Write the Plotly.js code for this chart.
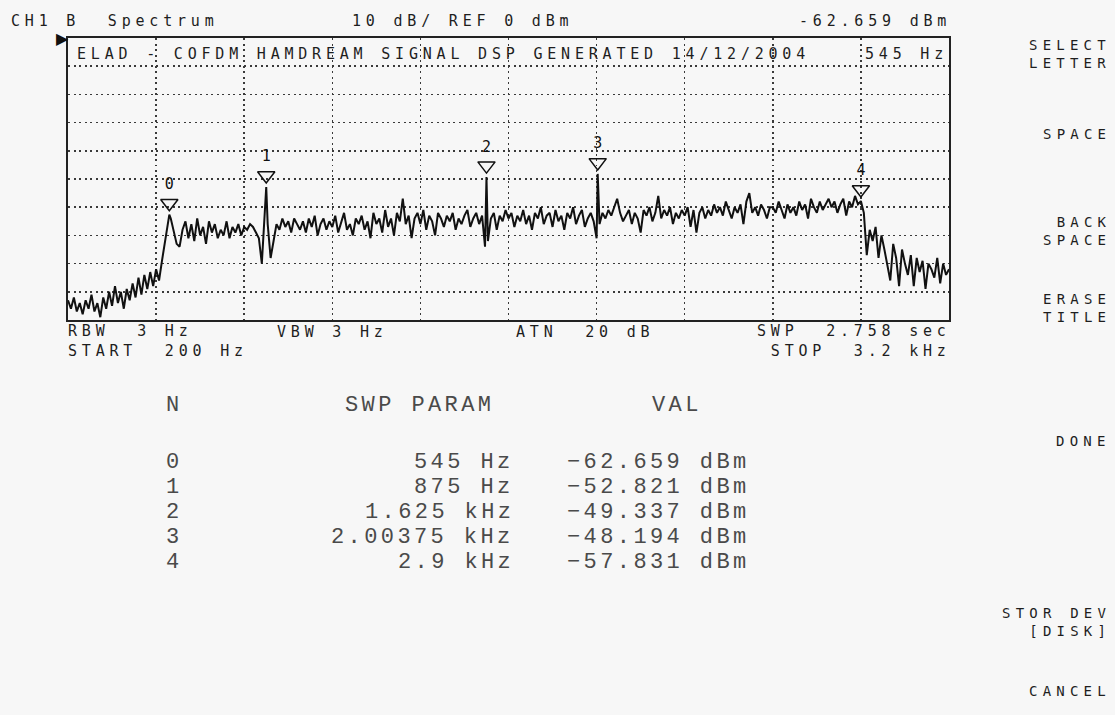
<!DOCTYPE html>
<html>
<head>
<meta charset="utf-8">
<script src="https://cdn.plot.ly/plotly-3.0.1.min.js"></script>
<style>
  html, body { margin: 0; padding: 0; background: #f7f7f7; }
  #chart { width: 1115px; height: 715px; }
  .annotation-text[style*="DejaVu Sans Mono"][style*="font-size: 15px"] { letter-spacing: 4.8px; }
  .annotation-text[style*="DejaVu Sans Mono"][style*="font-size: 14px"] { letter-spacing: 5.2px; }
  .annotation-text[style*="Liberation Mono"] { letter-spacing: 3.4px; }
</style>
</head>
<body>
<div id="chart"></div>
<script>
// ---- Sweep settings (from the screen: START 200 Hz, STOP 3.2 kHz) ----
const startHz = 200;
const stopHz = 3200;
const stepHz = 10;

// ---- Trace level (dBm), one value per 10 Hz from 200 Hz to 3200 Hz ----
const levelDbm = [
  -93,-96,-92,-97,-94,-98,-93,-96,-91,-97,   // 200
  -94,-99,-92,-96,-90,-95,-88,-94,-90,-96,   // 300
  -89,-93,-87,-92,-85,-91,-84,-89,-83,-88,   // 400
  -82,-86,-79,-73,-66,-64,-69,-73,-74,-68,   // 500
  -65,-71,-66,-72,-64,-70,-67,-73,-65,-69,   // 600
  -66,-71,-68,-70,-65,-71,-67,-69,-66,-70,   // 700
  -67,-68,-66,-67,-69,-71,-80,-64,-66,-78,   // 800
  -72,-66,-68,-64,-67,-65,-69,-64,-66,-68,   // 900
  -65,-69,-64,-67,-63,-70,-66,-64,-68,-65,   // 1000
  -67,-63,-69,-65,-62,-68,-66,-70,-64,-66,   // 1100
  -63,-68,-65,-71,-62,-66,-64,-69,-61,-67,   // 1200
  -64,-70,-62,-65,-57,-66,-63,-71,-64,-62,   // 1300
  -66,-61,-68,-63,-65,-70,-62,-64,-67,-63,   // 1400
  -65,-62,-68,-64,-66,-63,-61,-67,-64,-62,   // 1500
  -66,-63,-74,-72,-64,-62,-68,-63,-65,-61,   // 1600
  -64,-62,-67,-63,-65,-61,-66,-63,-68,-62,   // 1700
  -64,-60,-66,-63,-62,-67,-61,-65,-63,-68,   // 1800
  -62,-64,-60,-66,-63,-61,-67,-64,-62,-65,   // 1900
  -71,-66,-62,-64,-61,-63,-60,-57,-62,-65,   // 2000
  -63,-61,-66,-62,-64,-69,-61,-63,-60,-65,   // 2100
  -62,-56,-64,-61,-63,-60,-66,-62,-64,-61,   // 2200
  -63,-60,-67,-61,-69,-62,-60,-64,-61,-63,   // 2300
  -59,-62,-60,-63,-58,-61,-64,-60,-62,-59,   // 2400
  -66,-58,-55,-62,-60,-63,-59,-61,-64,-60,   // 2500
  -60,-62,-58,-61,-64,-59,-62,-60,-63,-58,   // 2600
  -61,-59,-64,-57,-60,-62,-58,-61,-59,-57,   // 2700
  -60,-58,-62,-59,-57,-63,-58,-60,-56,-59,   // 2800
  -58,-62,-77,-68,-72,-67,-78,-70,-75,-81,   // 2900
  -86,-73,-78,-88,-75,-80,-84,-77,-88,-78,   // 3000
  -83,-79,-89,-80,-82,-85,-78,-87,-80,-84,   // 3100
  -82                                        // 3200
];

// ---- Markers ----
const markerIds = ['0', '1', '2', '3', '4'];
const markerHz = [545, 875, 1625, 2003.75, 2900];
const markerDbm = [-62.659, -52.821, -49.337, -48.194, -57.831];
const markerHzLabels = ['545 Hz', '875 Hz', '1.625 kHz', '2.00375 kHz', '2.9 kHz'];
const markerDbmLabels = ['\u221262.659 dBm', '\u221252.821 dBm', '\u221249.337 dBm', '\u221248.194 dBm', '\u221257.831 dBm'];

// ---- Screen texts ----
const headerLeft = 'CH1 B\u00a0\u00a0Spectrum';
const headerMid = '10 dB/ REF 0 dBm';
const headerRight = '-62.659 dBm';
const screenTitle = 'ELAD - COFDM HAMDREAM SIGNAL DSP GENERATED 14/12/2004';
const activeMarkerText = '545 Hz';
const infoLeft = 'RBW\u00a0\u00a03 Hz<br>START\u00a0\u00a0200 Hz';
const infoVbw = 'VBW 3 Hz';
const infoAtn = 'ATN\u00a0\u00a020 dB';
const infoRight = 'SWP\u00a0\u00a02.758 sec<br>STOP\u00a0\u00a03.2 kHz';
const tableHeads = ['N', 'SWP PARAM', 'VAL'];
const softkeys = ['SELECT<br>LETTER', 'SPACE', 'BACK<br>SPACE', 'ERASE<br>TITLE', 'DONE', 'STOR DEV<br>[DISK]', 'CANCEL'];

// ---- Build sweep (markers merged into the trace) ----
const pts = [];
levelDbm.forEach((v, i) => pts.push([startHz + i * stepHz, v]));
markerHz.forEach((f, k) => {
  const j = pts.findIndex(p => p[0] === f);
  if (j >= 0) pts[j][1] = markerDbm[k]; else pts.push([f, markerDbm[k]]);
});
pts.sort((a, b) => a[0] - b[0]);
const traceX = pts.map(p => p[0]);
const traceY = pts.map(p => p[1]);

// ---- Layout geometry ----
const W = 1115, H = 715;
const M = { l: 68, r: 166, t: 38, b: 395 };
const PW = W - M.l - M.r, PH = H - M.t - M.b;
const px = x => (x - M.l) / PW;
const py = y => (H - M.b - y) / PH;

const HF = { family: 'DejaVu Sans Mono', size: 15, color: '#1e1e1e' };
const SF = { family: 'DejaVu Sans Mono', size: 14, color: '#1e1e1e' };
const TF = { family: 'Liberation Mono', size: 22, color: '#4a4a4a' };

const ann = (text, x, y, xanchor, font) => ({
  text: text, xref: 'paper', yref: 'paper', x: px(x), y: py(y),
  xanchor: xanchor, yanchor: 'middle', showarrow: false, font: font,
  align: xanchor === 'right' ? 'right' : 'left'
});

const annotations = [
  ann(headerLeft, 9, 21, 'left', HF),
  ann(headerMid, 350, 21, 'left', HF),
  ann(headerRight, 953, 21, 'right', HF),
  ann('\u25B6', 54, 39, 'left', { family: 'DejaVu Sans', size: 16, color: '#111' }),
  ann(screenTitle, 75, 54, 'left', HF),
  ann(activeMarkerText, 950, 54, 'right', HF),
  ann(infoLeft, 66, 341, 'left', HF),
  ann(infoVbw, 275, 332, 'left', HF),
  ann(infoAtn, 514, 332, 'left', HF),
  ann(infoRight, 953, 341, 'right', HF),
  ann(tableHeads[0], 164, 405, 'left', TF),
  ann(tableHeads[1], 343, 405, 'left', TF),
  ann(tableHeads[2], 650, 405, 'left', TF)
];
const tableRowY = [462, 487, 512, 537, 562];
markerIds.forEach((id, k) => {
  annotations.push(ann(id, 164, tableRowY[k], 'left', TF));
  annotations.push(ann(markerHzLabels[k], 516, tableRowY[k], 'right', TF));
  annotations.push(ann(markerDbmLabels[k], 565, tableRowY[k], 'left', TF));
});
const softkeyY = [54, 134, 231, 308, 441, 622, 691];
softkeys.forEach((s, k) => annotations.push(ann(s, 1113, softkeyY[k], 'right', SF)));

// marker symbol sits just above the trace point
const dbPerPx = 100 / PH;
const markerOffsetDb = 11.5 * dbPerPx;

const traces = [
  {
    type: 'scatter', mode: 'lines', x: traceX, y: traceY,
    line: { color: '#111111', width: 2 }, hoverinfo: 'skip', cliponaxis: true
  },
  {
    type: 'scatter', mode: 'markers+text', x: markerHz,
    y: markerDbm.map(v => v + markerOffsetDb),
    text: markerIds, textposition: 'top center',
    textfont: { family: 'DejaVu Sans Mono', size: 15, color: '#111' },
    marker: { symbol: 'triangle-down-open', size: 15, color: '#111', line: { width: 1.5, color: '#111' } },
    cliponaxis: false, hoverinfo: 'skip'
  }
];

const axisCommon = {
  showgrid: true, gridcolor: '#3a3a3a', gridwidth: 1.5, griddash: '2px,3.5px',
  showticklabels: false, ticks: '', zeroline: false,
  showline: true, mirror: true, linecolor: '#222', linewidth: 2, fixedrange: true
};

const layout = {
  width: W, height: H, margin: M,
  paper_bgcolor: '#f7f7f7', plot_bgcolor: '#f7f7f7',
  showlegend: false, hovermode: false,
  xaxis: Object.assign({}, axisCommon, { range: [startHz, stopHz], tick0: startHz, dtick: (stopHz - startHz) / 10 }),
  yaxis: Object.assign({}, axisCommon, { range: [-100, 0], tick0: -100, dtick: 10 }),
  annotations: annotations
};

Plotly.newPlot('chart', traces, layout, { staticPlot: true, displayModeBar: false });
</script>
</body>
</html>
